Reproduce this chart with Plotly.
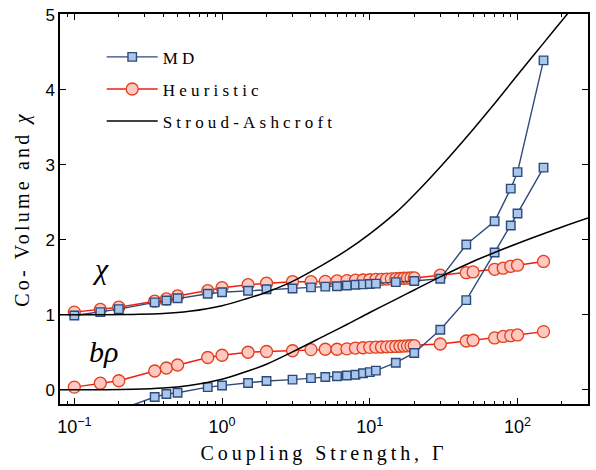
import math
import plotly.graph_objects as go

# ---------------- data ----------------
gamma_md = [0.1, 0.15, 0.2, 0.35, 0.42, 0.5, 0.8, 1, 1.5, 2, 3, 4, 5, 6, 7, 8, 9, 10, 11, 15,
            20, 30, 45, 70, 90, 100, 150]
md_chi = [0.99, 1.035, 1.075, 1.165, 1.19, 1.22, 1.28, 1.30, 1.32, 1.34, 1.35, 1.365, 1.375,
          1.38, 1.39, 1.40, 1.405, 1.41, 1.415, 1.435, 1.45, 1.48, 1.935, 2.245, 2.68, 2.90, 4.39]
md_brho = [-0.55, -0.42, -0.27, -0.097, -0.057, -0.04, 0.035, 0.056, 0.09, 0.117, 0.135, 0.155,
           0.17, 0.18, 0.19, 0.20, 0.22, 0.235, 0.255, 0.36, 0.49, 0.80, 1.195, 1.83, 2.19, 2.35, 2.96]

gamma_heur = [0.1, 0.15, 0.2, 0.35, 0.42, 0.5, 0.8, 1, 1.5, 2, 3, 4, 5, 6, 7, 8, 9, 10, 11, 12,
              13, 14, 15, 16, 17, 18, 19, 20, 30, 45, 50, 70, 80, 90, 100, 150]
heur_chi = [1.035, 1.07, 1.10, 1.18, 1.21, 1.25, 1.32, 1.36, 1.40, 1.42, 1.44, 1.44, 1.445, 1.45,
            1.455, 1.46, 1.463, 1.466, 1.47, 1.472, 1.475, 1.478, 1.48, 1.483, 1.486, 1.488,
            1.49, 1.49, 1.527, 1.56, 1.57, 1.605, 1.62, 1.645, 1.66, 1.71]
heur_brho = [0.035, 0.087, 0.12, 0.25, 0.29, 0.33, 0.43, 0.46, 0.50, 0.51, 0.52, 0.535, 0.54,
             0.54, 0.545, 0.556, 0.56, 0.565, 0.567, 0.57, 0.572, 0.575, 0.577, 0.58, 0.582,
             0.585, 0.587, 0.587, 0.61, 0.65, 0.66, 0.69, 0.71, 0.72, 0.73, 0.775]

gamma_sa_chi = [0.08, 0.15, 0.25, 0.4, 0.6, 1, 1.5, 2, 3, 5, 7, 10, 15, 20, 30, 50, 70, 100,
                150, 220, 250]
sa_chi = [1.0, 1.0, 1.004, 1.015, 1.045, 1.12, 1.22, 1.30, 1.445, 1.685, 1.86, 2.077, 2.36, 2.60,
          2.97, 3.47, 3.815, 4.195, 4.62, 5.02, 5.15]
gamma_sa_brho = [0.08, 0.15, 0.25, 0.4, 0.6, 1, 1.5, 2, 3, 5, 7, 10, 15, 20, 30, 50, 70, 100,
                 150, 200, 300]
sa_brho = [0.0, 0.0, 0.005, 0.022, 0.058, 0.14, 0.25, 0.34, 0.505, 0.725, 0.87, 1.03, 1.205,
           1.33, 1.505, 1.71, 1.83, 1.95, 2.08, 2.17, 2.29]

x_ticks = [0.1, 1, 10, 100]
x_ticktext = ["10<sup>−1</sup>", "10<sup>0</sup>", "10<sup>1</sup>", "10<sup>2</sup>"]
x_minor = [m * 10 ** d for d in (-2, -1, 0, 1, 2) for m in range(2, 10)]
y_ticks = [0, 1, 2, 3, 4, 5]

# ---------------- style ----------------
MD_LINE = "#2e4a78"
MD_FILL = "#a9c7ec"
HE_LINE = "#f01e14"
HE_EDGE = "#e0401c"
HE_FILL = "#ffc8c2"
SERIF = "Liberation Serif"
SANS = "Liberation Sans"

fig = go.Figure()

for i, ys in enumerate([heur_chi, heur_brho]):
    fig.add_trace(go.Scatter(
        x=gamma_heur, y=ys, mode="lines+markers", name="Heuristic",
        legendgroup="heur", showlegend=(i == 0), legendrank=2,
        line=dict(color=HE_LINE, width=1.4),
        marker=dict(symbol="circle", size=12, color=HE_FILL,
                    line=dict(color=HE_EDGE, width=1.3)),
    ))

for i, ys in enumerate([md_chi, md_brho]):
    fig.add_trace(go.Scatter(
        x=gamma_md, y=ys, mode="lines+markers", name="MD",
        legendgroup="md", showlegend=(i == 0), legendrank=1,
        line=dict(color=MD_LINE, width=1.4),
        marker=dict(symbol="square", size=8.5, color=MD_FILL,
                    line=dict(color=MD_LINE, width=1.4)),
    ))

for i, (xs, ys) in enumerate([(gamma_sa_chi, sa_chi), (gamma_sa_brho, sa_brho)]):
    fig.add_trace(go.Scatter(
        x=xs, y=ys, mode="lines", name="Stroud-Ashcroft",
        legendgroup="sa", showlegend=(i == 0), legendrank=3,
        line=dict(color="black", width=1.5, shape="spline", smoothing=1.0),
    ))

fig.update_layout(
    width=596, height=470,
    margin=dict(l=60, r=7, t=6, b=66),
    plot_bgcolor="white", paper_bgcolor="white",
    font=dict(family=SERIF, color="black"),
    legend=dict(x=0.079, y=0.935, xanchor="left", yanchor="top",
                bgcolor="rgba(0,0,0,0)", borderwidth=0,
                font=dict(family=SERIF, size=17, color="black"),
                tracegroupgap=7, itemwidth=51),
    annotations=[
        dict(x=math.log10(0.15), y=1.62, xref="x", yref="y", text="<i>χ</i>",
             showarrow=False, font=dict(family=SERIF, size=30, color="black")),
        dict(x=math.log10(0.158), y=0.51, xref="x", yref="y", text="<i>bρ</i>",
             showarrow=False, font=dict(family=SERIF, size=30, color="black")),
    ],
)

fig.update_xaxes(
    type="log", range=[math.log10(0.08), math.log10(300)],
    tickvals=x_ticks, ticktext=x_ticktext,
    ticks="inside", ticklen=6, tickwidth=1, tickcolor="black", ticklabelstandoff=6,
    minor=dict(tickvals=x_minor, ticks="inside", ticklen=3, tickcolor="black", tickwidth=1,
               showgrid=False),
    showline=True, linecolor="black", linewidth=1.5, mirror="allticks",
    showgrid=False, zeroline=False,
    tickfont=dict(family=SANS, size=18, color="black"),
    title=dict(text="Coupling Strength, Γ", font=dict(family=SERIF, size=20, color="black"),
               standoff=10),
)
fig.update_yaxes(
    range=[-0.19, 5.008], tickvals=y_ticks, ticklabeloverflow="allow",
    ticks="inside", ticklen=6, tickwidth=1, tickcolor="black",
    showline=True, linecolor="black", linewidth=1.5, mirror="allticks",
    showgrid=False, zeroline=False,
    tickfont=dict(family=SANS, size=17, color="black"),
    title=dict(text="Co- Volume and <i>χ</i>", font=dict(family=SERIF, size=20, color="black"),
               standoff=10),
)

post = """
(function(){
  function sp(){
    document.querySelectorAll('.xtitle').forEach(function(e){e.style.letterSpacing='3.9px';});
    document.querySelectorAll('.ytitle').forEach(function(e){e.style.letterSpacing='3.2px';});
    document.querySelectorAll('.legendtext').forEach(function(e){e.style.letterSpacing='4.2px';});
    document.querySelectorAll('.legend .scrollbox').forEach(function(e){e.removeAttribute('clip-path');});
  }
  sp();
  var gd = document.getElementById('{plot_id}');
  if (gd && gd.on) { gd.on('plotly_afterplot', sp); }
})();
"""
fig.write_html("out.html", post_script=post)
